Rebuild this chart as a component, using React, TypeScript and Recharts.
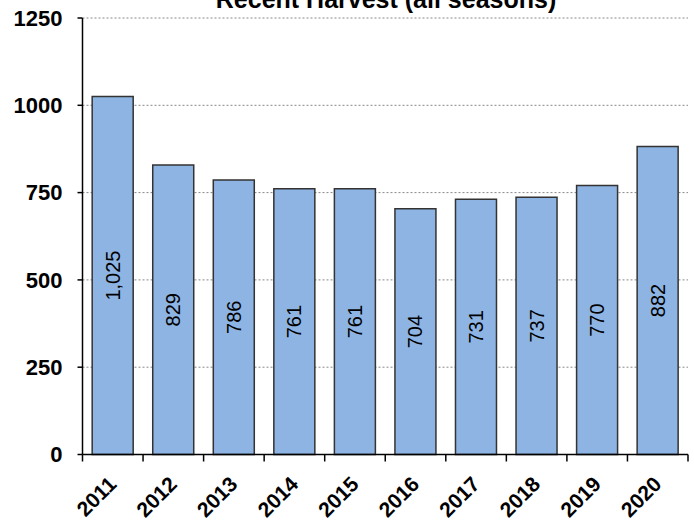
import React from 'react';
import { BarChart, Bar, XAxis, YAxis, CartesianGrid, LabelList } from 'recharts';

const years = ['2011', '2012', '2013', '2014', '2015', '2016', '2017', '2018', '2019', '2020'];
const harvest = [1025, 829, 786, 761, 761, 704, 731, 737, 770, 882];
const yTicks = [0, 250, 500, 750, 1000, 1250];

const chartData = years.map((year, i) => ({ year, harvest: harvest[i] }));

const W = 694;
const H = 520;
const margin = { top: 18, right: 6, left: 0, bottom: 0 };
const yAxisWidth = 82.5;
const band = (W - margin.left - margin.right - yAxisWidth) / years.length;
const font = '"Liberation Sans", Arial, sans-serif';

const YearTick = (props: any) => {
  const { x, y, payload, index } = props;
  const axisY = y - 10;
  const ax = x + 5;
  const ay = axisY + 31;
  return (
    <g>
      <line x1={x - band / 2} y1={axisY} x2={x - band / 2} y2={axisY + 7} stroke="#000" strokeWidth={1.5} />
      {index === years.length - 1 && (
        <line x1={x + band / 2} y1={axisY} x2={x + band / 2} y2={axisY + 7} stroke="#000" strokeWidth={1.5} />
      )}
      <text
        x={ax}
        y={ay}
        textAnchor="end"
        transform={`rotate(-45, ${ax}, ${ay})`}
        fontFamily={font}
        fontWeight="bold"
        fontSize={21}
        fill="#000"
      >
        {payload.value}
      </text>
    </g>
  );
};

const BarValue = (props: any) => {
  const { x, y, width, height, value } = props;
  const cx = x + width / 2;
  const cy = y + height / 2;
  return (
    <text
      x={cx}
      y={cy}
      textAnchor="middle"
      dominantBaseline="central"
      transform={`rotate(-90, ${cx}, ${cy})`}
      fontFamily={font}
      fontSize={20}
      fill="#000"
    >
      {Number(value).toLocaleString('en-US')}
    </text>
  );
};

export default function App() {
  return (
    <div style={{ position: 'absolute', left: 0, top: 0, width: W, height: H, background: '#fff' }}>
      <BarChart width={W} height={H} data={chartData} margin={margin} barCategoryGap="16%">
        <CartesianGrid vertical={false} stroke="#888" strokeDasharray="2 2" />
        <XAxis
          dataKey="year"
          interval={0}
          height={H - margin.top - 436.5}
          axisLine={{ stroke: '#000', strokeWidth: 1.5 }}
          tickLine={false}
          tickMargin={2}
          tickSize={8}
          tick={<YearTick />}
        />
        <YAxis
          width={yAxisWidth}
          domain={[0, 1250]}
          ticks={yTicks}
          interval={0}
          axisLine={{ stroke: '#000', strokeWidth: 1.5 }}
          tickLine={{ stroke: '#000', strokeWidth: 1.5 }}
          tickSize={5}
          tickMargin={15}
          tick={{ fontFamily: font, fontWeight: 'bold', fontSize: 22, fill: '#000' }}
        />
        <Bar dataKey="harvest" fill="#8EB4E3" stroke="#333" strokeWidth={1.5} isAnimationActive={false}>
          <LabelList dataKey="harvest" content={<BarValue />} />
        </Bar>
      </BarChart>
      <svg width={W} height={H} style={{ position: 'absolute', left: 0, top: 0, pointerEvents: 'none' }}>
        <text x={386} y={8} textAnchor="middle" fontFamily={font} fontWeight="bold" fontSize={25} fill="#000">
          Recent Harvest (all seasons)
        </text>
      </svg>
    </div>
  );
}
